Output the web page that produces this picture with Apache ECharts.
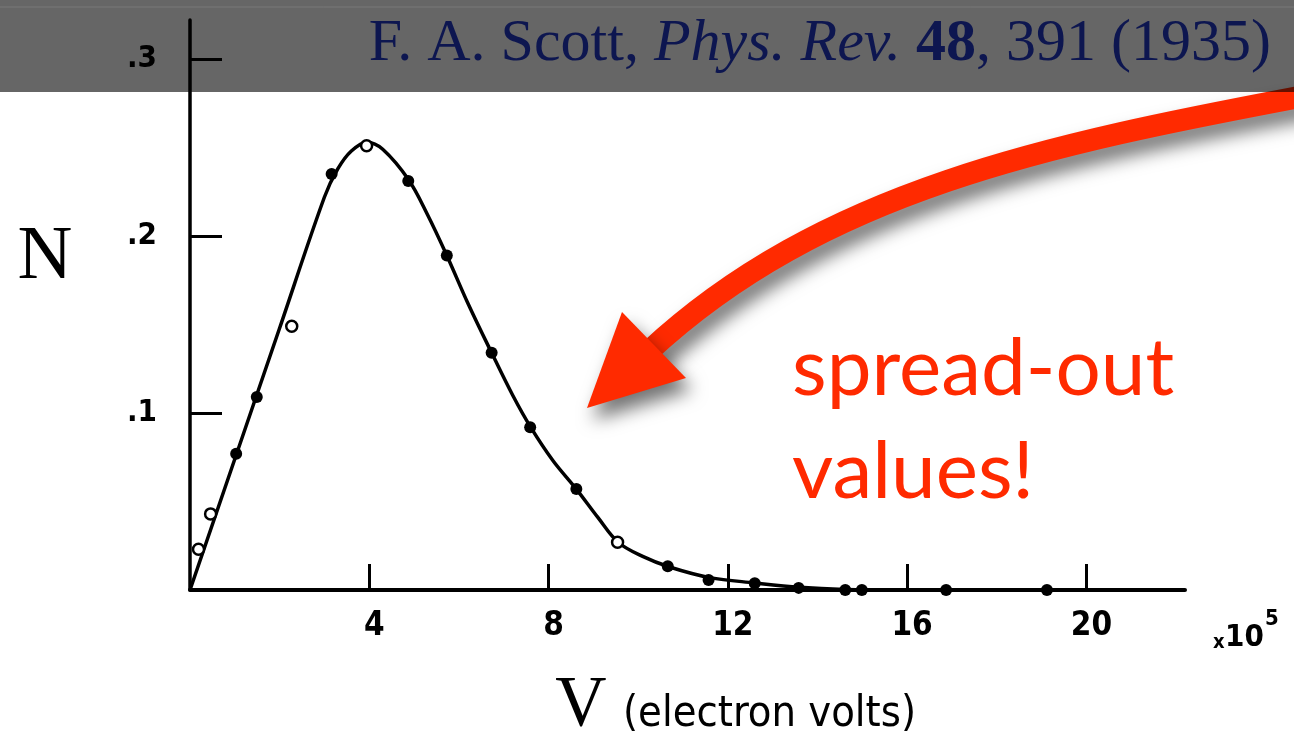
<!DOCTYPE html>
<html>
<head>
<meta charset="utf-8">
<title>F. A. Scott 1935</title>
<script src="https://cdn.jsdelivr.net/npm/echarts@6/dist/echarts.min.js"></script>
<style>
html, body { margin: 0; padding: 0; background: #fff; }
#main { width: 1294px; height: 738px; }
</style>
</head>
<body>
<div id="main"></div>
<script>
// values (V in units of 10^5 eV)
const filledV = [1.03, 1.49, 3.16, 4.87, 5.73, 6.73, 7.59, 8.62, 10.66, 11.57, 12.6, 13.58, 14.62, 14.99, 16.87, 19.12];
const filledN = [0.077, 0.109, 0.235, 0.231, 0.189, 0.134, 0.092, 0.057, 0.0134, 0.0056, 0.0038, 0.0012, 0, 0, 0, 0];
const openV = [0.19, 0.46, 2.27, 3.94, 9.54];
const openN = [0.023, 0.043, 0.149, 0.251, 0.027];
// hand drawn smooth curve
const curveV = [0, 1.0, 2.0, 3.0, 3.3, 3.6, 3.95, 4.3, 4.87, 5.3, 5.73, 6.2, 6.73, 7.2, 7.6, 8.1, 8.62, 9.1, 9.55, 10.1, 10.7, 11.6, 12.6, 13.6, 14.6, 16, 22.2];
const curveN = [0, 0.074, 0.148, 0.222, 0.238, 0.248, 0.253, 0.249, 0.232, 0.212, 0.189, 0.162, 0.134, 0.110, 0.092, 0.073, 0.057, 0.041, 0.027, 0.019, 0.013, 0.007, 0.004, 0.0015, 0.0003, 0, 0];
const xTicks = [4, 8, 12, 16, 20];
const yTicks = [0.1, 0.2, 0.3];
const yTickLabels = ['.1', '.2', '.3'];

function pairs(xs, ys) {
	return xs.map(function (v, i) { return [v, ys[i]] })
}

(function () {
	let myChart = echarts.init(document.getElementById('main'))
	const red = '#ff2a00'
	const shadow = {
		shadowBlur: 18,
		shadowColor: 'rgba(0,0,0,0.55)',
		shadowOffsetX: 6,
		shadowOffsetY: 12
	}
	const titleFont = { fontFamily: 'Liberation Serif', fontSize: 60, fill: '#0d1650', color: '#0d1650' }
	const handFont = 'DejaVu Sans Condensed'

	let option = {
		animation: false,
		backgroundColor: '#fff',
		grid: {
			left: 190,
			right: 109,
			top: 20,
			bottom: 148
		},
		xAxis: {
			type: 'value',
			min: 0,
			max: 22.2,
			axisLine: { lineStyle: { color: '#000', width: 4 } },
			axisTick: {
				inside: true,
				length: 26,
				customValues: xTicks,
				lineStyle: { color: '#000', width: 3 }
			},
			axisLabel: {
				customValues: xTicks,
				color: '#000',
				fontFamily: handFont,
				fontWeight: 'bold',
				fontSize: 33,
				margin: 20,
				padding: [0, 0, 0, 10]
			},
			splitLine: { show: false }
		},
		yAxis: {
			type: 'value',
			min: 0,
			max: 0.322,
			axisLine: { show: true, lineStyle: { color: '#000', width: 3.5 } },
			axisTick: {
				show: true,
				inside: true,
				length: 32,
				customValues: yTicks,
				lineStyle: { color: '#000', width: 3 }
			},
			axisLabel: {
				customValues: yTicks,
				color: '#000',
				fontFamily: handFont,
				fontWeight: 'bold',
				fontSize: 31,
				margin: 33,
				padding: [0, 0, 16, 0],
				formatter: function (v) {
					let i = yTicks.findIndex(function (t) { return Math.abs(t - v) < 1e-9 })
					return i < 0 ? '' : yTickLabels[i]
				}
			},
			splitLine: { show: false }
		},
		series: [
			{
				name: 'curve',
				type: 'line',
				data: pairs(curveV, curveN),
				smooth: 0.35,
				showSymbol: false,
				lineStyle: { color: '#000', width: 3.5 },
				z: 2
			},
			{
				name: 'filled',
				type: 'scatter',
				data: pairs(filledV, filledN),
				symbol: 'circle',
				symbolSize: 12,
				itemStyle: { color: '#000', opacity: 1 },
				z: 3
			},
			{
				name: 'open',
				type: 'scatter',
				data: pairs(openV, openN),
				symbol: 'circle',
				symbolSize: 11,
				itemStyle: { color: '#fff', borderColor: '#000', borderWidth: 2.5, opacity: 1 },
				z: 3
			}
		],
		graphic: [
			// red arrow
			{
				type: 'bezierCurve',
				z: 50,
				shape: { x1: 1310, y1: 95, cpx1: 1050, cpy1: 144, cpx2: 822, cpy2: 190, x2: 648, y2: 352 },
				style: Object.assign({ stroke: red, lineWidth: 22, fill: null }, shadow)
			},
			{
				type: 'polygon',
				z: 51,
				shape: { points: [[587, 408], [622, 312], [686, 378]] },
				style: Object.assign({ fill: red }, shadow)
			},
			{
				type: 'text',
				z: 52,
				x: 792,
				y: 318,
				style: {
					text: 'spread-out\nvalues!',
					font: '80px Lato',
					fill: red,
					lineHeight: 103,
					align: 'left', textAlign: 'left',
					verticalAlign: 'top', textVerticalAlign: 'top'
				}
			},
			// axis names
			{
				type: 'text',
				z: 20,
				x: 45,
				y: 258,
				style: {
					text: 'N', font: '76px "Liberation Serif"', fill: '#000',
					align: 'center', textAlign: 'center', verticalAlign: 'middle', textVerticalAlign: 'middle'
				}
			},
			{
				type: 'text',
				z: 20,
				x: 581,
				y: 706,
				style: {
					text: 'V', font: '71px "Liberation Serif"', fill: '#000',
					align: 'center', textAlign: 'center', verticalAlign: 'middle', textVerticalAlign: 'middle'
				}
			},
			{
				type: 'text',
				z: 20,
				x: 623,
				y: 715,
				style: {
					text: '(electron volts)', font: '43px "DejaVu Sans Condensed"', fill: '#000',
					align: 'left', textAlign: 'left', verticalAlign: 'middle', textVerticalAlign: 'middle'
				}
			},
			{
				type: 'text', z: 20, x: 1213, y: 643,
				style: { text: 'x', font: 'bold 20px "DejaVu Sans Condensed"', fill: '#000', verticalAlign: 'middle', textVerticalAlign: 'middle' }
			},
			{
				type: 'text', z: 20, x: 1225, y: 638,
				style: { text: '10', font: 'bold 31px "DejaVu Sans Condensed"', fill: '#000', verticalAlign: 'middle', textVerticalAlign: 'middle' }
			},
			{
				type: 'text', z: 20, x: 1265, y: 619,
				style: { text: '5', font: 'bold 22px "DejaVu Sans Condensed"', fill: '#000', verticalAlign: 'middle', textVerticalAlign: 'middle' }
			},
			// grey banner on top
			{
				type: 'rect',
				z: 100,
				shape: { x: 0, y: 0, width: 1294, height: 92 },
				style: { fill: 'rgba(0,0,0,0.6)' }
			},
			{
				type: 'line',
				z: 101,
				shape: { x1: 0, y1: 7, x2: 1294, y2: 7 },
				style: { stroke: 'rgba(255,255,255,0.12)', lineWidth: 1 }
			},
			{
				type: 'text',
				z: 102,
				x: 1271,
				y: 44,
				style: {
					text: '{a|F. A. Scott, }{i|Phys. Rev.}{b| 48}{a|, 391 (1935)}',
					align: 'right', textAlign: 'right',
					verticalAlign: 'middle', textVerticalAlign: 'middle',
					rich: {
						a: titleFont,
						i: Object.assign({ fontStyle: 'italic' }, titleFont),
						b: Object.assign({ fontWeight: 'bold' }, titleFont)
					}
				}
			}
		]
	}
	myChart.setOption(option)
	window.addEventListener('resize', function () {
		myChart.resize()
	})
})()
</script>
</body>
</html>
